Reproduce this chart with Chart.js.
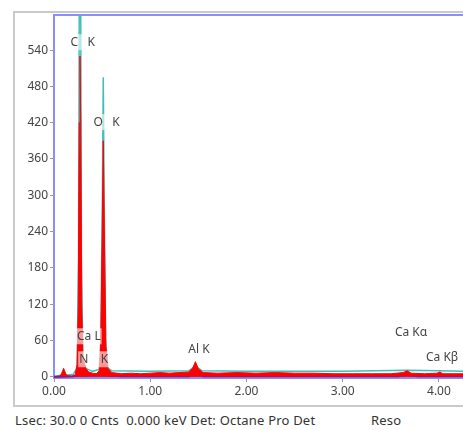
<!DOCTYPE html>
<html>
<head>
<meta charset="utf-8">
<script src="https://cdn.jsdelivr.net/npm/chart.js@4.4.1/dist/chart.umd.min.js"></script>
<style>
    html, body { margin: 0; padding: 0; background: #fff; overflow: hidden; }
    body { width: 463px; height: 430px; position: relative; font-family: "Noto Sans", sans-serif; }
    #frame { position: absolute; left: 13px; top: 11px; width: 480px; height: 392px; border: 2px solid #cacaca; }
    #spectrum { position: absolute; left: 0; top: 0; }
    .status { position: absolute; top: 411px; font-size: 13px; color: #333; white-space: pre; letter-spacing: 0.2px; }
</style>
</head>
<body>
<div id="frame"></div>
<canvas id="spectrum" width="463" height="405"></canvas>
<div class="status" style="left:15px">Lsec: 30.0 0 Cnts  0.000 keV Det: Octane Pro Det</div>
<div class="status" style="left:371px">Reso</div>
<script>
// Measured spectrum (red)
let specKeV = [0.00, 0.06, 0.08, 0.10, 0.11, 0.13, 0.18, 0.22, 0.24, 0.252, 0.262, 0.270, 0.278, 0.288, 0.30, 0.33, 0.36, 0.40, 0.44,
    0.47, 0.485, 0.500, 0.512, 0.524, 0.539, 0.56, 0.60, 0.70, 0.80, 0.90, 1.00, 1.10, 1.20, 1.30, 1.40, 1.44, 1.47, 1.50, 1.55,
    1.70, 1.90, 2.10, 2.30, 2.50, 2.70, 2.90, 3.10, 3.30, 3.50, 3.63, 3.67, 3.71, 3.85, 3.98, 4.01, 4.04, 4.15, 4.25];
let specCounts = [0, 0, 6, 14, 10, 2, 1, 3, 20, 120, 420, 530, 420, 120, 30, 14, 8, 6, 5,
    10, 50, 230, 390, 230, 50, 14, 7, 5, 6, 5, 6, 7, 6, 7, 8, 14, 25, 13, 7,
    6, 7, 6, 7, 6, 6, 5, 5, 5, 5, 7, 10, 6, 5, 6, 8, 5, 5, 5];

// Fitted spectrum (teal)
let fitKeV = [0.00, 0.08, 0.10, 0.13, 0.20, 0.24, 0.255, 0.264, 0.276, 0.285, 0.30, 0.33, 0.40, 0.47, 0.487, 0.503, 0.512,
    0.521, 0.537, 0.56, 0.60, 1.00, 1.40, 1.47, 1.54, 2.00, 3.00, 3.67, 4.00, 4.25];
let fitCounts = [0, 3, 6, 3, 4, 15, 200, 700, 700, 200, 30, 14, 9, 12, 60, 300, 495,
    300, 60, 15, 10, 9, 10, 18, 10, 9, 9, 11, 10, 9];

// Peak components and background (blue)
let bgKeV = [0.00, 0.20, 0.26, 0.28, 0.30, 0.40, 0.45, 0.52, 0.56, 0.70, 1.40, 1.43, 1.47, 1.51, 1.55, 3.58, 3.63, 3.67, 3.72, 3.78, 4.25];
let bgCounts = [0, 1, 3, 4, 2, 3, 4, 4, 2, 1, 1, 5, 15, 5, 1, 1, 3, 5, 2, 1, 1];

// Element markers
let peakNames = ["C   K", "Ca L", "N    K", "O   K", "Al K", "Ca K\u03b1", "Ca K\u03b2"];
let peakKeV = [0.277, 0.341, 0.392, 0.525, 1.486, 3.690, 4.012];
let peakLabelCounts = [553, 67, 29, 421, 45, 73, 32];

let xTicks = [0, 1, 2, 3, 4];
let yTicks = [0, 60, 120, 180, 240, 300, 360, 420, 480, 540];

function toPoints(xs, ys) {
    return xs.map(function (x, i) { return { x: x, y: ys[i] }; });
}

let frameColor = "#8c8cff";

let plotFrame = {
    id: "plotFrame",
    afterDraw: function (chart) {
        let ctx = chart.ctx;
        let area = chart.chartArea;
        ctx.save();
        ctx.strokeStyle = frameColor;
        ctx.lineWidth = 2;
        ctx.beginPath();
        ctx.moveTo(area.left - 1, area.top);
        ctx.lineTo(chart.width, area.top);
        ctx.stroke();
        ctx.restore();
    }
};

let peakLabels = {
    id: "peakLabels",
    afterDatasetsDraw: function (chart) {
        let ctx = chart.ctx;
        let xs = chart.scales.x;
        let ys = chart.scales.y;
        ctx.save();
        ctx.font = "12px 'Noto Sans'";
        ctx.textAlign = "center";
        ctx.textBaseline = "middle";
        for (let i = 0; i < peakNames.length; i++) {
            let px = xs.getPixelForValue(peakKeV[i]) + 2;
            let py = ys.getPixelForValue(peakLabelCounts[i]);
            let w = ctx.measureText(peakNames[i]).width;
            ctx.fillStyle = "rgba(255,255,255,0.6)";
            ctx.fillRect(px - w / 2 - 1, py - 8, w + 2, 16);
            ctx.fillStyle = "#444";
            ctx.fillText(peakNames[i], px, py);
        }
        ctx.restore();
    }
};

let ctx = document.getElementById("spectrum").getContext("2d");

let chart = new Chart(ctx, {
    type: "line",
    data: {
        datasets: [{
            data: toPoints(specKeV, specCounts),
            borderColor: "#ff0000",
            backgroundColor: "#ff0000",
            borderWidth: 1,
            fill: "origin"
        }, {
            data: toPoints(bgKeV, bgCounts),
            borderColor: "#2020e0",
            backgroundColor: "#2020b8",
            borderWidth: 2,
            fill: "origin"
        }, {
            data: toPoints(fitKeV, fitCounts),
            borderColor: "#45bcbc",
            borderWidth: 1.5,
            fill: false
        }]
    },
    options: {
        responsive: false,
        animation: false,
        layout: { padding: { top: 15, right: 0, left: 0, bottom: 0 } },
        elements: { point: { radius: 0 }, line: { tension: 0 } },
        plugins: { legend: { display: false }, tooltip: { enabled: false } },
        scales: {
            x: {
                type: "linear",
                min: 0,
                max: 4.25,
                border: { color: frameColor, width: 2 },
                grid: { drawOnChartArea: false, tickLength: 4, color: "#999" },
                ticks: {
                    color: "#444",
                    font: { family: "Noto Sans", size: 12 },
                    padding: 2,
                    maxRotation: 0,
                    callback: function (v) { return v.toFixed(2); }
                },
                afterBuildTicks: function (axis) {
                    axis.ticks = xTicks.map(function (v) { return { value: v }; });
                },
                afterFit: function (axis) { axis.height = 27; }
            },
            y: {
                min: -2,
                max: 598,
                border: { color: frameColor, width: 2 },
                grid: { drawOnChartArea: false, tickLength: 4, color: "#999" },
                ticks: {
                    color: "#444",
                    font: { family: "Noto Sans", size: 12 },
                    padding: 2
                },
                afterBuildTicks: function (axis) {
                    axis.ticks = yTicks.map(function (v) { return { value: v }; });
                },
                afterFit: function (axis) { axis.width = 54; }
            }
        }
    },
    plugins: [plotFrame, peakLabels]
});
</script>
</body>
</html>
